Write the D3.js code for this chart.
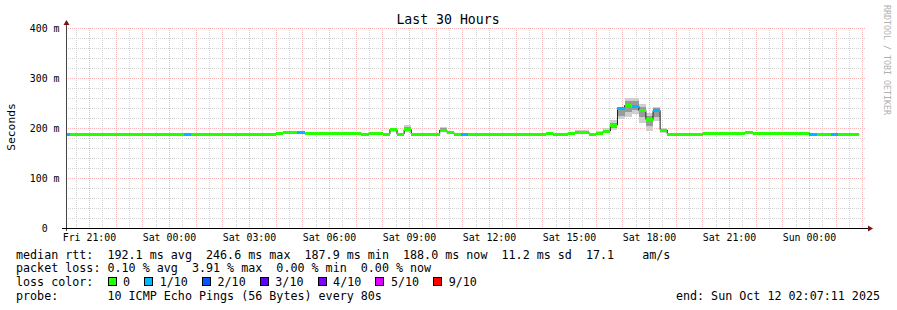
<!DOCTYPE html>
<html><head><meta charset="utf-8">
<script src="https://cdn.jsdelivr.net/npm/d3@7"></script>
<style>
body{margin:0;background:#fff}
text{font-family:"DejaVu Sans Mono",monospace;white-space:pre}
</style>
</head><body>
<svg id="c" width="897" height="310"></svg>
<script>
// ---------------- data ----------------
const titleText = "Last 30 Hours";
const yAxisTitle = "Seconds";
const startTime = Date.UTC(2025, 9, 10, 20, 7, 11);
const endTime   = Date.UTC(2025, 9, 12, 2, 7, 11);
const firstStep = Date.UTC(2025, 9, 10, 20, 0, 0);
const stepMinutes = 16;

// median RTT (ms) per 16-minute step
const medianRtt = [
188,188,188,188,188,188,188,188,188,188,
188,188,188,188,188,188,188,188,188,188,
188,188,188,188,188,188,188,188,188,188,
189.5,190.5,190.5,190.5,190,190,190,190,190,190,
190,190,188,190,188.5,188,197,188,197,188,
187.9,187.9,187.9,196,191.5,188,188,188,188,188,
188,188,188,188,188,188,188,188,190,188,
187.9,190,191.5,191.5,188,190,194,206,240,245,
244,235,217,235,196,188,188,188,188,188,
190,190,190,190,190,190,191.5,190,190,190,
190,190,190,190,190,188,188,188,188,188,
188,188,null
];
// lost pings (out of 10) per step
const lossCount = [
1,0,0,0,0,0,0,0,0,0,
0,0,0,0,0,0,0,1,0,0,
0,0,0,0,0,0,0,0,0,0,
0,0,0,1,0,0,0,0,0,0,
0,0,0,0,0,0,0,0,0,0,
0,0,0,0,0,0,1,0,0,0,
0,0,0,0,0,0,0,0,0,0,
0,0,0,0,0,0,0,0,1,0,
1,0,0,1,0,0,0,0,0,0,
0,0,0,0,0,0,0,0,0,0,
0,0,0,0,0,1,0,0,1,0,
0,0,0
];
// smoke (spread of individual pings) for steps where it is visible
const smokeStep    = [46, 48, 53, 54, 71, 72, 73, 75, 76, 77, 78, 79, 80, 81, 82, 83, 84];
const smokeOuterLo = [192,192,194,189,189,190,190,189,190,196,219,223,229,211,195,215,191];
const smokeOuterHi = [199,207,203,195,193,197,197,194,200,216,242,261,261,248,231,243,200];
const smokeInnerLo = [194,195,195,190,189,191,191,189,192,200,225,232,236,222,205,222,193];
const smokeInnerHi = [198,203,200,193,192,195,195,192,197,211,240,255,254,242,225,240,198];

const lossLabels = ["0","1/10","2/10","3/10","4/10","5/10","9/10"];
const lossColors = ["#26ff00","#00b8ff","#0059ff","#5e00ff","#7e00ff","#dd00ff","#ff0000"];

const yTicks = [0,100,200,300,400];
const yTickLabels = ["0  ","100 m","200 m","300 m","400 m"];
const xLabelTimes = [
  Date.UTC(2025,9,10,21), Date.UTC(2025,9,11,0), Date.UTC(2025,9,11,3),
  Date.UTC(2025,9,11,6), Date.UTC(2025,9,11,9), Date.UTC(2025,9,11,12),
  Date.UTC(2025,9,11,15), Date.UTC(2025,9,11,18), Date.UTC(2025,9,11,21),
  Date.UTC(2025,9,12,0)
];

const legendLines = [
  "median rtt:  192.1 ms avg  246.6 ms max  187.9 ms min  188.0 ms now  11.2 ms sd  17.1    am/s",
  "packet loss: 0.10 % avg  3.91 % max  0.00 % min  0.00 % now",
  "loss color:  ",
  "probe:       10 ICMP Echo Pings (56 Bytes) every 80s"
];
const endText = "end: Sun Oct 12 02:07:11 2025";
const watermark = "RRDTOOL / TOBI OETIKER";

// ---------------- layout ----------------
const L = 66, R = 866, T = 28, B = 228;
const svg = d3.select("#c");
svg.append("rect").attr("width",897).attr("height",310).attr("fill","#fff");

const x = d3.scaleUtc().domain([startTime, endTime]).range([L, R]);
const y = d3.scaleLinear().domain([0, 400]).range([B, T]);

svg.append("clipPath").attr("id","plot").append("rect")
  .attr("x",L).attr("y",T).attr("width",R-L).attr("height",B-T);

const stepMs = stepMinutes*60000;
const tStart = k => firstStep + k*stepMs;

// grid (under the data)
const grid = svg.append("g").attr("shape-rendering","crispEdges");
const minorX = d3.utcMinute.every(30).range(new Date(startTime), new Date(endTime));
const majorX = d3.utcHour.every(1).range(new Date(startTime), new Date(endTime));
const minorCol = "#d2d2d2", majorCol = "#f6b4b4";
minorX.forEach(t => grid.append("line").attr("x1",x(t)).attr("x2",x(t)).attr("y1",T).attr("y2",B)
  .attr("stroke",minorCol).attr("stroke-dasharray","1,1"));
d3.range(20,400,20).forEach(v => grid.append("line").attr("x1",L).attr("x2",R).attr("y1",y(v)).attr("y2",y(v))
  .attr("stroke",minorCol).attr("stroke-dasharray","1,1"));
majorX.forEach(t => grid.append("line").attr("x1",x(t)).attr("x2",x(t)).attr("y1",T).attr("y2",B)
  .attr("stroke",majorCol).attr("stroke-dasharray","1,1"));
yTicks.filter(v=>v>0).forEach(v => grid.append("line").attr("x1",L).attr("x2",R).attr("y1",y(v)).attr("y2",y(v))
  .attr("stroke",majorCol).attr("stroke-dasharray","1,1"));

const data = svg.append("g").attr("clip-path","url(#plot)");

// smoke
smokeStep.forEach((k,i) => {
  const x0 = x(tStart(k)), x1 = x(tStart(k+1));
  data.append("rect").attr("x",x0).attr("width",x1-x0)
    .attr("y",y(smokeOuterHi[i])).attr("height",y(smokeOuterLo[i])-y(smokeOuterHi[i]))
    .attr("fill","#cfcfcf").attr("shape-rendering","crispEdges");
  data.append("rect").attr("x",x0).attr("width",x1-x0)
    .attr("y",y(smokeInnerHi[i])).attr("height",y(smokeInnerLo[i])-y(smokeInnerHi[i]))
    .attr("fill","#9a9a9a").attr("shape-rendering","crispEdges");
});

// black median step line
const pts = [];
medianRtt.forEach((m,k) => {
  pts.push([tStart(k), m]);
  if (m != null && (k+1 >= medianRtt.length || medianRtt[k+1] == null)) pts.push([tStart(k+1), m]);
});
data.append("path")
  .attr("d", d3.line().defined(d => d[1] != null).x(d => x(d[0])).y(d => y(d[1])).curve(d3.curveStepAfter)(pts))
  .attr("fill","none").attr("stroke","#202020").attr("stroke-width",1);

// loss-coloured median bands
medianRtt.forEach((m,k) => {
  if (m == null) return;
  const x0 = x(tStart(k)), x1 = x(tStart(k+1));
  data.append("rect").attr("x",x0).attr("width",x1-x0)
    .attr("y",y(m)-1.5).attr("height",3)
    .attr("fill",lossColors[lossCount[k]])
    .attr("shape-rendering","crispEdges");
});

// axes
const ax = svg.append("g").attr("shape-rendering","crispEdges");
ax.append("line").attr("x1",L+0.5).attr("x2",L+0.5).attr("y1",B+3).attr("y2",T-5).attr("stroke","#444");
ax.append("line").attr("x1",L-4).attr("x2",R+3).attr("y1",B+0.5).attr("y2",B+0.5).attr("stroke","#000");
svg.append("path").attr("d",`M${L-2.5},${T-3}L${L+3.5},${T-3}L${L+0.5},${T-8}Z`).attr("fill","#7f1010");
svg.append("path").attr("d",`M${R+2},${B-2.5}L${R+2},${B+3.5}L${R+7},${B+0.5}Z`).attr("fill","#7f1010");

// y tick labels
yTicks.forEach((v,i) => svg.append("text").attr("x",59.5).attr("y",y(v)+3.6)
  .attr("text-anchor","end").attr("font-size","9.9px").attr("fill","#000").text(yTickLabels[i]));
// x tick labels
xLabelTimes.forEach(t => svg.append("text").attr("x",x(t)).attr("y",240.8)
  .attr("text-anchor","middle").attr("font-size","9.9px").attr("fill","#000")
  .text(d3.utcFormat("%a %H:%M")(new Date(t))));

// titles
svg.append("text").attr("x",448).attr("y",24).attr("text-anchor","middle")
  .attr("font-size","13.2px").attr("fill","#000").text(titleText);
svg.append("text").attr("transform","translate(15,127) rotate(-90)").attr("text-anchor","middle")
  .attr("font-size","11.3px").attr("fill","#000").text(yAxisTitle);
svg.append("text").attr("transform","translate(884,60) rotate(90)").attr("text-anchor","middle")
  .attr("font-size","8.3px").attr("fill","#b0b0b0").text(watermark);

// legend
const lineY = [258.5, 272.2, 286, 300];
legendLines.forEach((s,i) => svg.append("text").attr("x",16).attr("y",lineY[i])
  .attr("font-size","11.7px").attr("fill","#000").text(s));
const probe = svg.append("text").attr("font-size","11.7px").text("M");
const cw = probe.node().getComputedTextLength();
probe.remove();
let lx = 16 + 13*cw;
lossLabels.forEach((lab,i) => {
  svg.append("rect").attr("x",lx+0.5).attr("y",lineY[2]-8.5).attr("width",8).attr("height",8)
    .attr("fill",lossColors[i]).attr("stroke","#000").attr("stroke-width",1).attr("shape-rendering","crispEdges");
  svg.append("text").attr("x",lx+15.5).attr("y",lineY[2]).attr("font-size","11.7px").attr("fill","#000").text(lab);
  lx += 15.5 + lab.length*cw + 2*cw;
});
svg.append("text").attr("x",880).attr("y",lineY[3]).attr("text-anchor","end")
  .attr("font-size","11.7px").attr("fill","#000").text(endText);
</script>
</body></html>
